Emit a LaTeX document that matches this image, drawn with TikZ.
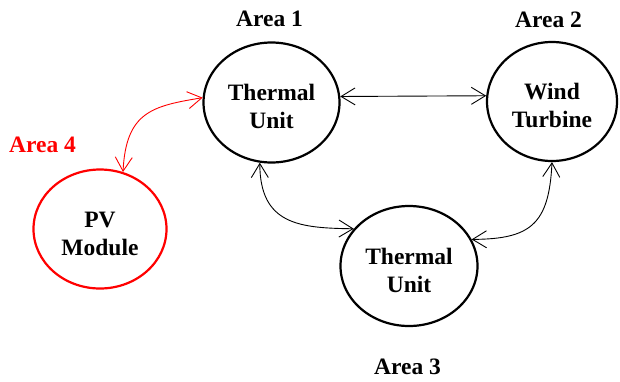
\documentclass[tikz,border=0pt]{standalone}
\usepackage{fontspec}
\setmainfont{Liberation Serif}
\usetikzlibrary{shapes.geometric,arrows.meta}
\newcommand{\upstrut}{\rule{0pt}{25pt}}
\begin{document}
\begin{tikzpicture}[x=1pt,y=-1pt,>={Straight Barb[length=14pt,width=17pt]},
    unit/.style={ellipse, draw, line width=2.2pt, inner sep=0pt, minimum width=136pt, minimum height=120pt, align=center, font=\fontsize{23.5}{28}\selectfont\bfseries},
    area/.style={anchor=base, font=\fontsize{23.5}{27}\selectfont\bfseries},
    link/.style={line width=0.9pt,<->}]
  \useasboundingbox (0,0) rectangle (620,381);
  \node[unit] (th1) at (271.5,102.5) {\upstrut Thermal\\Unit};
  \node[unit,minimum width=130pt,minimum height=119pt] (wt) at (552,101.5) {\upstrut Wind\\Turbine};
  \node[unit,minimum width=137pt] (th3) at (409,266) {\upstrut Thermal\\Unit};
  \node[unit,red,text=black,minimum width=133pt,minimum height=119pt] (pv) at (100,229) {\upstrut PV\\Module};
  \node[area] (a1) at (269.5,26.7) {Area 1};
  \node[area] (a2) at (548.5,27) {Area 2};
  \node[area] (a3) at (407.5,374) {Area 3};
  \node[area,red] (a4) at (42.5,152.7) {Area 4};
  \draw[link] (th1.5) -- (wt.175);
  \draw[link] (th1.259) .. controls (260,225) and (300,228) .. (th3.146);
  \draw[link] (wt.270) .. controls (549,225) and (530,239) .. (th3.23);
  \draw[link,red] (pv.68) .. controls (126,112) and (152,106) .. (th1.176);
\end{tikzpicture}
\end{document}
